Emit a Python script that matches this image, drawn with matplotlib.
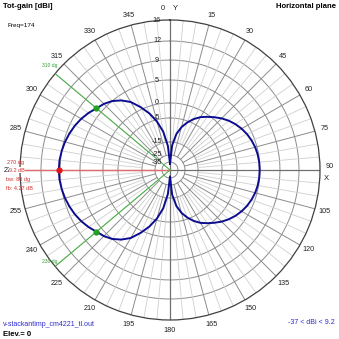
import numpy as np
import matplotlib
matplotlib.use("Agg")
import matplotlib.pyplot as plt
from matplotlib.transforms import offset_copy

plt.rcParams['font.family'] = ['Liberation Sans', 'DejaVu Sans']

# Horizontal-plane total gain (dBi) versus bearing (deg, clockwise from Y)
bearing_deg = np.arange(0, 361, 5)
gain_dbi = [
    -37.0, -17.5, -11.5, -8.2, -5.6, -3.6, -2.0, -0.7, 0.4, 1.3,      # 0..45
    2.1, 2.8, 3.4, 3.9, 4.3, 4.6, 4.8, 4.9, 4.93,                    # 50..90
    4.9, 4.8, 4.6, 4.3, 3.9, 3.4, 2.8, 2.1, 1.3, 0.4,                # 95..140
    -0.7, -2.0, -3.6, -5.6, -8.2, -11.5, -17.5, -37.0,               # 145..180
    -18.0, -10.5, -5.8, -2.3, 0.5, 2.5, 3.9, 5.0, 5.7, 6.2,          # 185..230
    6.9, 7.5, 8.0, 8.4, 8.75, 9.0, 9.15, 9.2,                        # 235..270
    9.15, 9.0, 8.75, 8.4, 8.0, 7.5, 6.9, 6.2, 5.7, 5.0,              # 275..320
    3.9, 2.5, 0.5, -2.3, -5.8, -10.5, -18.0, -37.0,                  # 325..360
]

peak_bearing = 270
peak_gain = 9.2
beam_edges = [230, 310]
beamwidth = 80
front_back = 4.27
gain_min = -37
freq = 174

ring_db = [-35, -25, -15, -5, 0, 5, 9, 12, 16]
ring_text = ['-35', '-25', '-15', '-5', '0', '5', '9', '12', '16']
bearing_ticks = list(range(0, 360, 15))

# Compressed radial scale: dB value -> fraction of the plot radius
scale_db = [-45, -35, -25, -15, -5, 0, 5, 9, 12, 16]
scale_frac = [0.0, 0.0533, 0.10, 0.187, 0.347, 0.447, 0.60, 0.733, 0.86, 1.0]


def fwd(v):
    return np.interp(np.asarray(v, dtype=float), scale_db, scale_frac)


def inv(f):
    return np.interp(np.asarray(f, dtype=float), scale_frac, scale_db)


W = 339
fig = plt.figure(figsize=(W / 100, W / 100), dpi=100)
fig.patch.set_facecolor('white')
cx, cy, R = 170, 170, 150
ax = fig.add_axes([(cx - R) / W, (W - cy - R) / W, 2 * R / W, 2 * R / W],
                  projection='polar')
ax.set_theta_zero_location('N')
ax.set_theta_direction(-1)
ax.set_rscale('function', functions=(fwd, inv))
ax.set_rlim(-45, 16)
ax.grid(False)
ax.set_xticks([])
ax.set_yticks([])
ax.spines['polar'].set_color('#404040')
ax.spines['polar'].set_linewidth(0.9)

# rings
th = np.linspace(0, 2 * np.pi, 721)
for db in ring_db[:-1]:
    ax.plot(th, np.full_like(th, db), color='#8c8c8c', lw=0.7, zorder=1)

# spokes
for b in range(0, 360, 5):
    t = np.deg2rad(b)
    if b % 90 == 0:
        ax.plot([t, t], [-45, 16], color='#707070', lw=0.9, zorder=2)
    elif b % 15 == 0:
        ax.plot([t, t], [-25, 16], color='#8c8c8c', lw=0.7, zorder=1)
    else:
        ax.plot([t, t], [-15, 16], color='#cfcfcf', lw=0.6, zorder=1)

# main beam and -3 dB lines
tp = np.deg2rad(peak_bearing)
ax.plot([tp, tp], [-45, 16], color='#e86a6a', lw=0.9, zorder=3)
for e in beam_edges:
    te = np.deg2rad(e)
    ax.plot([te, te], [-45, 16], color='#4cb04c', lw=0.8, zorder=3)

# pattern
ax.plot(np.deg2rad(bearing_deg), gain_dbi, color='#0c0c90', lw=1.4, zorder=5)
ax.plot([tp], [peak_gain], 'o', ms=3.5, color='#e01818', zorder=6)
for e in beam_edges:
    g = gain_dbi[list(bearing_deg).index(e)]
    ax.plot([np.deg2rad(e)], [g], 'o', ms=3.5, color='#22a022', zorder=6)

# ring labels
lab_tr = offset_copy(ax.transData, fig=fig, x=-13, y=0, units='dots')
for db, txt in zip(ring_db, ring_text):
    ax.text(0, db, txt, transform=lab_tr, ha='center', va='center',
            fontsize=5.2, color='#202020', zorder=7, clip_on=False)

# bearing labels
k = 160 / 150
for b in bearing_ticks:
    if b == 0:
        continue
    t = np.deg2rad(b)
    x = 0.5 + 0.5 * k * np.sin(t)
    y = 0.5 + 0.5 * k * np.cos(t)
    if b == 90:
        y += 0.01
    ax.text(x, y, str(b), transform=ax.transAxes, ha='center', va='center',
            fontsize=5.2, color='#202020', clip_on=False)


def ftext(px, py, s, **kw):
    fig.text(px / W, 1 - py / W, s, **kw)


ftext(163, 8, '0', ha='center', va='center', fontsize=5.2, color='#202020')
ftext(175, 8, 'Y', ha='center', va='center', fontsize=5.5, color='#202020')
ftext(326, 178, 'X', ha='center', va='center', fontsize=5.5, color='#202020')

ftext(3, 7, 'Tot-gain [dBi]', ha='left', va='center', fontsize=5.6,
      fontweight='bold', color='black')
ftext(7, 25, f'Freq={freq}', ha='left', va='center', fontsize=4.6, color='black')
ftext(336, 7, 'Horizontal plane', ha='right', va='center', fontsize=5.6,
      fontweight='bold', color='black')
ftext(3, 325, 'v-stackantimp_cm4221_tl.out', ha='left', va='center',
      fontsize=5.0, color='#2a2ad0')
ftext(3, 335, 'Elev.= 0', ha='left', va='center', fontsize=5.6,
      fontweight='bold', color='black')
ftext(335, 323, f'{gain_min} < dBi < {peak_gain}', ha='right', va='center',
      fontsize=5.0, color='#2a2ad0')

red = '#d03030'
wb = dict(facecolor='white', edgecolor='none', pad=0.2)
ftext(7, 162, f'{peak_bearing} dg', ha='left', va='center', fontsize=4.0, color=red)
ftext(9, 170, f'{peak_gain} dB', ha='left', va='center', fontsize=4.0, color=red, bbox=wb)
ftext(6, 179, f'bw: {beamwidth} dg', ha='left', va='center', fontsize=4.0, color=red)
ftext(6, 188, f'fb: {front_back} dB', ha='left', va='center', fontsize=4.0, color=red)

green = '#30a030'
ftext(42, 65, f'{beam_edges[1]} dg', ha='left', va='center', fontsize=3.6, color=green)
ftext(42, 261, f'{beam_edges[0]} dg', ha='left', va='center', fontsize=3.6, color=green)

fig.savefig('out.png', dpi=100, facecolor='white')
